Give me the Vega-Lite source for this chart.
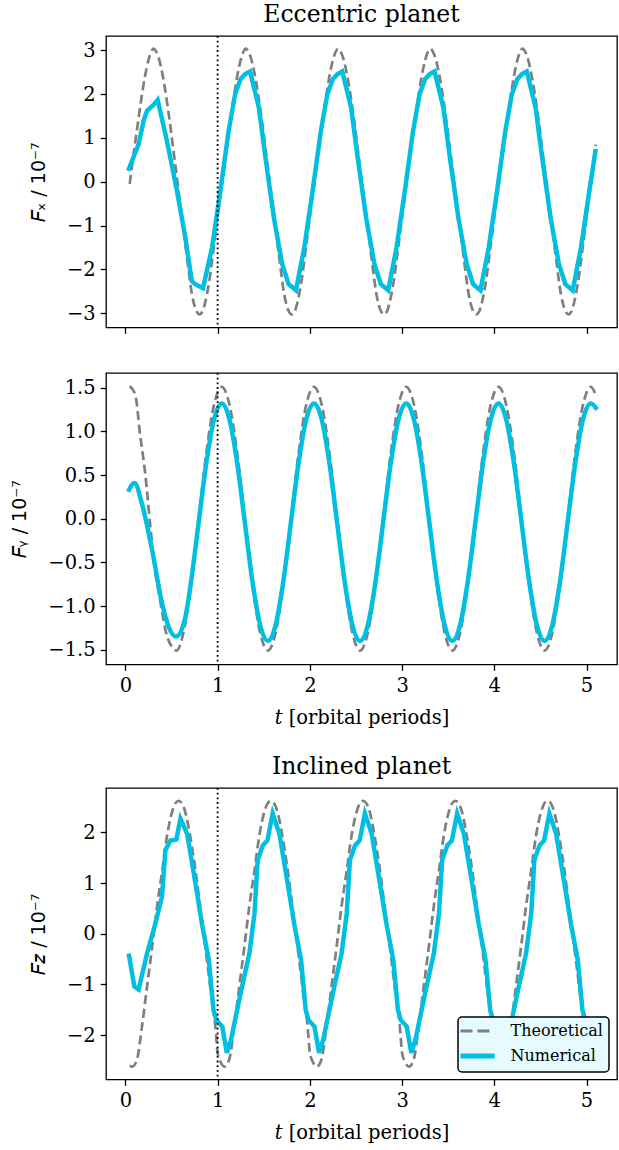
{
  "$schema": "https://vega.github.io/schema/vega-lite/v6.json",
  "padding": {"left": 10, "top": 2, "right": 0, "bottom": 0},
  "spacing": 26,
  "config": {
    "font": "DejaVu Serif",
    "view": {"stroke": "black", "strokeWidth": 1.3},
    "axis": {"domain": false, "grid": false, "ticks": true, "tickColor": "black", "tickWidth": 1.3, "tickSize": 5.8, "labelFont": "DejaVu Serif", "labelFontSize": 19.5, "labelColor": "black", "labelPadding": 5, "titleFont": "DejaVu Sans", "titleFontSize": 19, "titleFontWeight": "normal", "titleColor": "black", "titlePadding": 18},
    "axisX": {"titleFont": "DejaVu Serif", "titleFontSize": 19.5, "labelPadding": 6, "titlePadding": 14},
    "title": {"font": "DejaVu Serif", "fontSize": 23.5, "fontWeight": "normal", "color": "black", "offset": 8.5}
  },
  "datasets": {
    "p1T": [
      {"t":0.047,"v":-0.05},{"t":0.09,"v":0.65},{"t":0.13,"v":1.25},{"t":0.17,"v":1.85},{"t":0.21,"v":2.38},{"t":0.25,"v":2.78},{"t":0.28,"v":2.97},{"t":0.305,"v":3.04},{"t":0.335,"v":2.97},{"t":0.365,"v":2.80},{"t":0.415,"v":2.31},{"t":0.47,"v":1.55},{"t":0.54,"v":0.40},{"t":0.614,"v":-0.82},{"t":0.668,"v":-1.73},{"t":0.722,"v":-2.57},{"t":0.765,"v":-2.93},{"t":0.805,"v":-3.03},{"t":0.835,"v":-2.97},{"t":0.865,"v":-2.76},{"t":0.904,"v":-2.34},{"t":0.958,"v":-1.50},
      {"t":1.0,"v":-0.80},{"t":1.047,"v":-0.05},{"t":1.09,"v":0.65},{"t":1.13,"v":1.25},{"t":1.17,"v":1.85},{"t":1.21,"v":2.38},{"t":1.25,"v":2.78},{"t":1.28,"v":2.97},{"t":1.305,"v":3.04},{"t":1.335,"v":2.97},{"t":1.365,"v":2.80},{"t":1.415,"v":2.31},{"t":1.47,"v":1.55},{"t":1.54,"v":0.40},{"t":1.614,"v":-0.82},{"t":1.668,"v":-1.73},{"t":1.722,"v":-2.57},{"t":1.765,"v":-2.93},{"t":1.805,"v":-3.03},{"t":1.835,"v":-2.97},{"t":1.865,"v":-2.76},{"t":1.904,"v":-2.34},{"t":1.958,"v":-1.50},
      {"t":2.0,"v":-0.80},{"t":2.047,"v":-0.05},{"t":2.09,"v":0.65},{"t":2.13,"v":1.25},{"t":2.17,"v":1.85},{"t":2.21,"v":2.38},{"t":2.25,"v":2.78},{"t":2.28,"v":2.97},{"t":2.305,"v":3.04},{"t":2.335,"v":2.97},{"t":2.365,"v":2.80},{"t":2.415,"v":2.31},{"t":2.47,"v":1.55},{"t":2.54,"v":0.40},{"t":2.614,"v":-0.82},{"t":2.668,"v":-1.73},{"t":2.722,"v":-2.57},{"t":2.765,"v":-2.93},{"t":2.805,"v":-3.03},{"t":2.835,"v":-2.97},{"t":2.865,"v":-2.76},{"t":2.904,"v":-2.34},{"t":2.958,"v":-1.50},
      {"t":3.0,"v":-0.80},{"t":3.047,"v":-0.05},{"t":3.09,"v":0.65},{"t":3.13,"v":1.25},{"t":3.17,"v":1.85},{"t":3.21,"v":2.38},{"t":3.25,"v":2.78},{"t":3.28,"v":2.97},{"t":3.305,"v":3.04},{"t":3.335,"v":2.97},{"t":3.365,"v":2.80},{"t":3.415,"v":2.31},{"t":3.47,"v":1.55},{"t":3.54,"v":0.40},{"t":3.614,"v":-0.82},{"t":3.668,"v":-1.73},{"t":3.722,"v":-2.57},{"t":3.765,"v":-2.93},{"t":3.805,"v":-3.03},{"t":3.835,"v":-2.97},{"t":3.865,"v":-2.76},{"t":3.904,"v":-2.34},{"t":3.958,"v":-1.50},
      {"t":4.0,"v":-0.80},{"t":4.047,"v":-0.05},{"t":4.09,"v":0.65},{"t":4.13,"v":1.25},{"t":4.17,"v":1.85},{"t":4.21,"v":2.38},{"t":4.25,"v":2.78},{"t":4.28,"v":2.97},{"t":4.305,"v":3.04},{"t":4.335,"v":2.97},{"t":4.365,"v":2.80},{"t":4.415,"v":2.31},{"t":4.47,"v":1.55},{"t":4.54,"v":0.40},{"t":4.614,"v":-0.82},{"t":4.668,"v":-1.73},{"t":4.722,"v":-2.57},{"t":4.765,"v":-2.93},{"t":4.805,"v":-3.03},{"t":4.835,"v":-2.97},{"t":4.865,"v":-2.76},{"t":4.904,"v":-2.34},{"t":4.958,"v":-1.50},
      {"t":5.0,"v":-0.80},{"t":5.047,"v":-0.05},{"t":5.09,"v":0.65},{"t":5.10,"v":0.85}
    ],
    "p1N": [
      {"t":0.03,"v":0.25},{"t":0.144,"v":0.86},{"t":0.198,"v":1.40},{"t":0.235,"v":1.62},{"t":0.307,"v":1.76},{"t":0.35,"v":1.87},{"t":0.45,"v":0.94},{"t":0.56,"v":-0.21},{"t":0.65,"v":-1.27},{"t":0.72,"v":-2.27},{"t":0.757,"v":-2.34},{"t":0.842,"v":-2.43},{"t":0.94,"v":-1.50},
      {"t":1.03,"v":-0.21},{"t":1.12,"v":1.17},{"t":1.19,"v":2.00},{"t":1.25,"v":2.35},{"t":1.30,"v":2.46},{"t":1.352,"v":2.52},{"t":1.447,"v":1.70},{"t":1.518,"v":0.56},{"t":1.61,"v":-0.82},{"t":1.70,"v":-1.88},{"t":1.77,"v":-2.34},{"t":1.85,"v":-2.48},{"t":1.94,"v":-1.50},
      {"t":2.03,"v":-0.21},{"t":2.12,"v":1.17},{"t":2.19,"v":2.00},{"t":2.25,"v":2.35},{"t":2.30,"v":2.46},{"t":2.352,"v":2.52},{"t":2.447,"v":1.70},{"t":2.518,"v":0.56},{"t":2.61,"v":-0.82},{"t":2.70,"v":-1.88},{"t":2.77,"v":-2.34},{"t":2.85,"v":-2.48},{"t":2.94,"v":-1.50},
      {"t":3.03,"v":-0.21},{"t":3.12,"v":1.17},{"t":3.19,"v":2.00},{"t":3.25,"v":2.35},{"t":3.30,"v":2.46},{"t":3.352,"v":2.52},{"t":3.447,"v":1.70},{"t":3.518,"v":0.56},{"t":3.61,"v":-0.82},{"t":3.70,"v":-1.88},{"t":3.77,"v":-2.34},{"t":3.85,"v":-2.48},{"t":3.94,"v":-1.50},
      {"t":4.03,"v":-0.21},{"t":4.12,"v":1.17},{"t":4.19,"v":2.00},{"t":4.25,"v":2.35},{"t":4.30,"v":2.46},{"t":4.352,"v":2.52},{"t":4.447,"v":1.70},{"t":4.518,"v":0.56},{"t":4.61,"v":-0.82},{"t":4.70,"v":-1.88},{"t":4.77,"v":-2.34},{"t":4.85,"v":-2.48},{"t":4.94,"v":-1.50},
      {"t":5.03,"v":-0.21},{"t":5.10,"v":0.75}
    ],
    "p2T": [
      {"t":0.047,"v":1.52},{"t":0.108,"v":1.42},{"t":0.16,"v":0.96},{"t":0.217,"v":0.50},{"t":0.27,"v":-0.08},{"t":0.32,"v":-0.57},{"t":0.38,"v":-0.96},{"t":0.45,"v":-1.34},{"t":0.506,"v":-1.47},{"t":0.555,"v":-1.51},
      {"t":0.628,"v":-1.31},{"t":0.712,"v":-0.755},{"t":0.795,"v":0},{"t":0.878,"v":0.755},{"t":0.962,"v":1.31},
      {"t":1.045,"v":1.51},{"t":1.128,"v":1.31},{"t":1.212,"v":0.755},{"t":1.295,"v":0},{"t":1.378,"v":-0.755},{"t":1.462,"v":-1.31},{"t":1.545,"v":-1.51},{"t":1.628,"v":-1.31},{"t":1.712,"v":-0.755},{"t":1.795,"v":0},{"t":1.878,"v":0.755},{"t":1.962,"v":1.31},
      {"t":2.045,"v":1.51},{"t":2.128,"v":1.31},{"t":2.212,"v":0.755},{"t":2.295,"v":0},{"t":2.378,"v":-0.755},{"t":2.462,"v":-1.31},{"t":2.545,"v":-1.51},{"t":2.628,"v":-1.31},{"t":2.712,"v":-0.755},{"t":2.795,"v":0},{"t":2.878,"v":0.755},{"t":2.962,"v":1.31},
      {"t":3.045,"v":1.51},{"t":3.128,"v":1.31},{"t":3.212,"v":0.755},{"t":3.295,"v":0},{"t":3.378,"v":-0.755},{"t":3.462,"v":-1.31},{"t":3.545,"v":-1.51},{"t":3.628,"v":-1.31},{"t":3.712,"v":-0.755},{"t":3.795,"v":0},{"t":3.878,"v":0.755},{"t":3.962,"v":1.31},
      {"t":4.045,"v":1.51},{"t":4.128,"v":1.31},{"t":4.212,"v":0.755},{"t":4.295,"v":0},{"t":4.378,"v":-0.755},{"t":4.462,"v":-1.31},{"t":4.545,"v":-1.51},{"t":4.628,"v":-1.31},{"t":4.712,"v":-0.755},{"t":4.795,"v":0},{"t":4.878,"v":0.755},{"t":4.962,"v":1.31},
      {"t":5.045,"v":1.51},{"t":5.10,"v":1.42}
    ],
    "p2N": [
      {"t":0.03,"v":0.31},{"t":0.10,"v":0.41},{"t":0.18,"v":0.17},{"t":0.29,"v":-0.36},{"t":0.40,"v":-0.98},{"t":0.47,"v":-1.24},{"t":0.55,"v":-1.35},{"t":0.65,"v":-1.13},
      {"t":0.712,"v":-0.72},{"t":0.795,"v":-0.04},{"t":0.878,"v":0.64},{"t":0.962,"v":1.14},
      {"t":1.045,"v":1.32},{"t":1.128,"v":1.14},{"t":1.212,"v":0.64},{"t":1.295,"v":-0.04},{"t":1.378,"v":-0.72},{"t":1.462,"v":-1.22},{"t":1.545,"v":-1.40},{"t":1.628,"v":-1.22},{"t":1.712,"v":-0.72},{"t":1.795,"v":-0.04},{"t":1.878,"v":0.64},{"t":1.962,"v":1.14},
      {"t":2.045,"v":1.32},{"t":2.128,"v":1.14},{"t":2.212,"v":0.64},{"t":2.295,"v":-0.04},{"t":2.378,"v":-0.72},{"t":2.462,"v":-1.22},{"t":2.545,"v":-1.40},{"t":2.628,"v":-1.22},{"t":2.712,"v":-0.72},{"t":2.795,"v":-0.04},{"t":2.878,"v":0.64},{"t":2.962,"v":1.14},
      {"t":3.045,"v":1.32},{"t":3.128,"v":1.14},{"t":3.212,"v":0.64},{"t":3.295,"v":-0.04},{"t":3.378,"v":-0.72},{"t":3.462,"v":-1.22},{"t":3.545,"v":-1.40},{"t":3.628,"v":-1.22},{"t":3.712,"v":-0.72},{"t":3.795,"v":-0.04},{"t":3.878,"v":0.64},{"t":3.962,"v":1.14},
      {"t":4.045,"v":1.32},{"t":4.128,"v":1.14},{"t":4.212,"v":0.64},{"t":4.295,"v":-0.04},{"t":4.378,"v":-0.72},{"t":4.462,"v":-1.22},{"t":4.545,"v":-1.40},{"t":4.628,"v":-1.22},{"t":4.712,"v":-0.72},{"t":4.795,"v":-0.04},{"t":4.878,"v":0.64},{"t":4.962,"v":1.14},
      {"t":5.045,"v":1.32},{"t":5.115,"v":1.25}
    ],
    "p3": [
      {"s":"Theoretical","t":0.047,"v":-2.60},{"s":"Theoretical","t":0.075,"v":-2.62},{"s":"Theoretical","t":0.126,"v":-2.48},{"s":"Theoretical","t":0.18,"v":-1.83},{"s":"Theoretical","t":0.235,"v":-1.04},{"s":"Theoretical","t":0.29,"v":-0.26},{"s":"Theoretical","t":0.343,"v":0.53},{"s":"Theoretical","t":0.40,"v":1.25},{"s":"Theoretical","t":0.45,"v":1.91},{"s":"Theoretical","t":0.506,"v":2.40},{"s":"Theoretical","t":0.545,"v":2.58},{"s":"Theoretical","t":0.578,"v":2.62},{"s":"Theoretical","t":0.61,"v":2.58},{"s":"Theoretical","t":0.65,"v":2.40},{"s":"Theoretical","t":0.70,"v":1.95},{"s":"Theoretical","t":0.76,"v":1.25},{"s":"Theoretical","t":0.82,"v":0.40},{"s":"Theoretical","t":0.88,"v":-0.45},{"s":"Theoretical","t":0.93,"v":-1.20},{"s":"Theoretical","t":0.976,"v":-1.83},
      {"s":"Theoretical","t":1.0,"v":-2.35},{"s":"Theoretical","t":1.03,"v":-2.52},{"s":"Theoretical","t":1.075,"v":-2.62},{"s":"Theoretical","t":1.126,"v":-2.48},{"s":"Theoretical","t":1.18,"v":-1.83},{"s":"Theoretical","t":1.235,"v":-1.04},{"s":"Theoretical","t":1.29,"v":-0.26},{"s":"Theoretical","t":1.343,"v":0.53},{"s":"Theoretical","t":1.40,"v":1.25},{"s":"Theoretical","t":1.45,"v":1.91},{"s":"Theoretical","t":1.506,"v":2.40},{"s":"Theoretical","t":1.545,"v":2.58},{"s":"Theoretical","t":1.578,"v":2.62},{"s":"Theoretical","t":1.61,"v":2.58},{"s":"Theoretical","t":1.65,"v":2.40},{"s":"Theoretical","t":1.70,"v":1.95},{"s":"Theoretical","t":1.76,"v":1.25},{"s":"Theoretical","t":1.82,"v":0.40},{"s":"Theoretical","t":1.88,"v":-0.45},{"s":"Theoretical","t":1.93,"v":-1.20},{"s":"Theoretical","t":1.976,"v":-1.83},
      {"s":"Theoretical","t":2.0,"v":-2.35},{"s":"Theoretical","t":2.03,"v":-2.52},{"s":"Theoretical","t":2.075,"v":-2.62},{"s":"Theoretical","t":2.126,"v":-2.48},{"s":"Theoretical","t":2.18,"v":-1.83},{"s":"Theoretical","t":2.235,"v":-1.04},{"s":"Theoretical","t":2.29,"v":-0.26},{"s":"Theoretical","t":2.343,"v":0.53},{"s":"Theoretical","t":2.40,"v":1.25},{"s":"Theoretical","t":2.45,"v":1.91},{"s":"Theoretical","t":2.506,"v":2.40},{"s":"Theoretical","t":2.545,"v":2.58},{"s":"Theoretical","t":2.578,"v":2.62},{"s":"Theoretical","t":2.61,"v":2.58},{"s":"Theoretical","t":2.65,"v":2.40},{"s":"Theoretical","t":2.70,"v":1.95},{"s":"Theoretical","t":2.76,"v":1.25},{"s":"Theoretical","t":2.82,"v":0.40},{"s":"Theoretical","t":2.88,"v":-0.45},{"s":"Theoretical","t":2.93,"v":-1.20},{"s":"Theoretical","t":2.976,"v":-1.83},
      {"s":"Theoretical","t":3.0,"v":-2.35},{"s":"Theoretical","t":3.03,"v":-2.52},{"s":"Theoretical","t":3.075,"v":-2.62},{"s":"Theoretical","t":3.126,"v":-2.48},{"s":"Theoretical","t":3.18,"v":-1.83},{"s":"Theoretical","t":3.235,"v":-1.04},{"s":"Theoretical","t":3.29,"v":-0.26},{"s":"Theoretical","t":3.343,"v":0.53},{"s":"Theoretical","t":3.40,"v":1.25},{"s":"Theoretical","t":3.45,"v":1.91},{"s":"Theoretical","t":3.506,"v":2.40},{"s":"Theoretical","t":3.545,"v":2.58},{"s":"Theoretical","t":3.578,"v":2.62},{"s":"Theoretical","t":3.61,"v":2.58},{"s":"Theoretical","t":3.65,"v":2.40},{"s":"Theoretical","t":3.70,"v":1.95},{"s":"Theoretical","t":3.76,"v":1.25},{"s":"Theoretical","t":3.82,"v":0.40},{"s":"Theoretical","t":3.88,"v":-0.45},{"s":"Theoretical","t":3.93,"v":-1.20},{"s":"Theoretical","t":3.976,"v":-1.83},
      {"s":"Theoretical","t":4.0,"v":-2.35},{"s":"Theoretical","t":4.03,"v":-2.52},{"s":"Theoretical","t":4.075,"v":-2.62},{"s":"Theoretical","t":4.126,"v":-2.48},{"s":"Theoretical","t":4.18,"v":-1.83},{"s":"Theoretical","t":4.235,"v":-1.04},{"s":"Theoretical","t":4.29,"v":-0.26},{"s":"Theoretical","t":4.343,"v":0.53},{"s":"Theoretical","t":4.40,"v":1.25},{"s":"Theoretical","t":4.45,"v":1.91},{"s":"Theoretical","t":4.506,"v":2.40},{"s":"Theoretical","t":4.545,"v":2.58},{"s":"Theoretical","t":4.578,"v":2.62},{"s":"Theoretical","t":4.61,"v":2.58},{"s":"Theoretical","t":4.65,"v":2.40},{"s":"Theoretical","t":4.70,"v":1.95},{"s":"Theoretical","t":4.76,"v":1.25},{"s":"Theoretical","t":4.82,"v":0.40},{"s":"Theoretical","t":4.88,"v":-0.45},{"s":"Theoretical","t":4.93,"v":-1.20},{"s":"Theoretical","t":4.976,"v":-1.83},
      {"s":"Theoretical","t":5.0,"v":-2.35},{"s":"Theoretical","t":5.03,"v":-2.52},{"s":"Theoretical","t":5.075,"v":-2.62},{"s":"Theoretical","t":5.10,"v":-2.58},
      {"s":"Numerical","t":0.036,"v":-0.39},{"s":"Numerical","t":0.097,"v":-1.04},{"s":"Numerical","t":0.144,"v":-1.10},{"s":"Numerical","t":0.235,"v":-0.39},{"s":"Numerical","t":0.325,"v":0.20},{"s":"Numerical","t":0.397,"v":0.73},{"s":"Numerical","t":0.434,"v":1.65},{"s":"Numerical","t":0.488,"v":1.84},{"s":"Numerical","t":0.553,"v":1.86},{"s":"Numerical","t":0.597,"v":2.27},{"s":"Numerical","t":0.67,"v":1.97},{"s":"Numerical","t":0.76,"v":0.99},{"s":"Numerical","t":0.83,"v":0.20},{"s":"Numerical","t":0.905,"v":-0.52},{"s":"Numerical","t":0.955,"v":-1.50},{"s":"Numerical","t":0.985,"v":-1.70},
      {"s":"Numerical","t":1.05,"v":-1.83},{"s":"Numerical","t":1.10,"v":-2.35},{"s":"Numerical","t":1.145,"v":-2.09},{"s":"Numerical","t":1.25,"v":-1.17},{"s":"Numerical","t":1.344,"v":-0.39},{"s":"Numerical","t":1.40,"v":0.40},{"s":"Numerical","t":1.434,"v":1.45},{"s":"Numerical","t":1.49,"v":1.74},{"s":"Numerical","t":1.54,"v":1.84},{"s":"Numerical","t":1.597,"v":2.37},{"s":"Numerical","t":1.67,"v":1.97},{"s":"Numerical","t":1.76,"v":0.99},{"s":"Numerical","t":1.83,"v":0.20},{"s":"Numerical","t":1.905,"v":-0.52},{"s":"Numerical","t":1.955,"v":-1.50},{"s":"Numerical","t":1.985,"v":-1.70},
      {"s":"Numerical","t":2.05,"v":-1.83},{"s":"Numerical","t":2.10,"v":-2.35},{"s":"Numerical","t":2.145,"v":-2.09},{"s":"Numerical","t":2.25,"v":-1.17},{"s":"Numerical","t":2.344,"v":-0.39},{"s":"Numerical","t":2.40,"v":0.40},{"s":"Numerical","t":2.434,"v":1.45},{"s":"Numerical","t":2.49,"v":1.74},{"s":"Numerical","t":2.54,"v":1.84},{"s":"Numerical","t":2.597,"v":2.37},{"s":"Numerical","t":2.67,"v":1.97},{"s":"Numerical","t":2.76,"v":0.99},{"s":"Numerical","t":2.83,"v":0.20},{"s":"Numerical","t":2.905,"v":-0.52},{"s":"Numerical","t":2.955,"v":-1.50},{"s":"Numerical","t":2.985,"v":-1.70},
      {"s":"Numerical","t":3.05,"v":-1.83},{"s":"Numerical","t":3.10,"v":-2.35},{"s":"Numerical","t":3.145,"v":-2.09},{"s":"Numerical","t":3.25,"v":-1.17},{"s":"Numerical","t":3.344,"v":-0.39},{"s":"Numerical","t":3.40,"v":0.40},{"s":"Numerical","t":3.434,"v":1.45},{"s":"Numerical","t":3.49,"v":1.74},{"s":"Numerical","t":3.54,"v":1.84},{"s":"Numerical","t":3.597,"v":2.37},{"s":"Numerical","t":3.67,"v":1.97},{"s":"Numerical","t":3.76,"v":0.99},{"s":"Numerical","t":3.83,"v":0.20},{"s":"Numerical","t":3.905,"v":-0.52},{"s":"Numerical","t":3.955,"v":-1.50},{"s":"Numerical","t":3.985,"v":-1.70},
      {"s":"Numerical","t":4.05,"v":-1.83},{"s":"Numerical","t":4.10,"v":-2.35},{"s":"Numerical","t":4.145,"v":-2.09},{"s":"Numerical","t":4.25,"v":-1.17},{"s":"Numerical","t":4.344,"v":-0.39},{"s":"Numerical","t":4.40,"v":0.40},{"s":"Numerical","t":4.434,"v":1.45},{"s":"Numerical","t":4.49,"v":1.74},{"s":"Numerical","t":4.54,"v":1.84},{"s":"Numerical","t":4.597,"v":2.37},{"s":"Numerical","t":4.67,"v":1.97},{"s":"Numerical","t":4.76,"v":0.99},{"s":"Numerical","t":4.83,"v":0.20},{"s":"Numerical","t":4.905,"v":-0.52},{"s":"Numerical","t":4.955,"v":-1.50},{"s":"Numerical","t":4.985,"v":-1.70},
      {"s":"Numerical","t":5.05,"v":-1.83},{"s":"Numerical","t":5.10,"v":-2.35}
    ]
  },
  "resolve": {"scale": {"color": "independent"}, "legend": {"color": "independent"}},
  "vconcat": [
    {
      "width": 511, "height": 291.5,
      "title": {"text": "Eccentric planet"},
      "layer": [
        {
          "data": {"name": "p1T"},
          "mark": {"type": "line", "color": "#7f7f7f", "strokeWidth": 2.7, "strokeDash": [9, 4.5], "interpolate": "monotone", "clip": true},
          "encoding": {
            "x": {"field": "t", "type": "quantitative", "scale": {"domain": [-0.21, 5.33], "nice": false, "zero": false}, "axis": {"values": [0, 1, 2, 3, 4, 5], "format": "d", "labelOpacity": 0, "labelFontSize": 11, "labelPadding": 0, "title": null}},
            "y": {"field": "v", "type": "quantitative", "scale": {"domain": [-3.33, 3.33], "nice": false, "zero": false}, "axis": {"values": [-3, -2, -1, 0, 1, 2, 3], "format": "d", "title": "𝐹ₓ / 10⁻⁷"}}
          }
        },
        {
          "data": {"name": "p1N"},
          "mark": {"type": "line", "color": "#00bfe0", "strokeWidth": 4.5, "interpolate": "linear", "clip": true},
          "encoding": {
            "x": {"field": "t", "type": "quantitative"},
            "y": {"field": "v", "type": "quantitative"}
          }
        },
        {
          "data": {"values": [{}]},
          "mark": {"type": "rule", "color": "black", "strokeWidth": 1.8, "strokeDash": [1.8, 2.9]},
          "encoding": {"x": {"datum": 1}}
        }
      ]
    },
    {
      "width": 511, "height": 291.5,
      "layer": [
        {
          "data": {"name": "p2T"},
          "mark": {"type": "line", "color": "#7f7f7f", "strokeWidth": 2.7, "strokeDash": [9, 4.5], "interpolate": "monotone", "clip": true},
          "encoding": {
            "x": {"field": "t", "type": "quantitative", "scale": {"domain": [-0.21, 5.33], "nice": false, "zero": false}, "axis": {"values": [0, 1, 2, 3, 4, 5], "format": "d", "title": "𝑡 [orbital periods]"}},
            "y": {"field": "v", "type": "quantitative", "scale": {"domain": [-1.67, 1.67], "nice": false, "zero": false}, "axis": {"values": [-1.5, -1, -0.5, 0, 0.5, 1, 1.5], "format": ".1f", "title": "𝐹ᵧ / 10⁻⁷"}}
          }
        },
        {
          "data": {"name": "p2N"},
          "mark": {"type": "line", "color": "#00bfe0", "strokeWidth": 4.5, "interpolate": "monotone", "clip": true},
          "encoding": {
            "x": {"field": "t", "type": "quantitative"},
            "y": {"field": "v", "type": "quantitative"}
          }
        },
        {
          "data": {"values": [{}]},
          "mark": {"type": "rule", "color": "black", "strokeWidth": 1.8, "strokeDash": [1.8, 2.9]},
          "encoding": {"x": {"datum": 1}}
        }
      ]
    },
    {
      "width": 511, "height": 291.5,
      "title": {"text": "Inclined planet"},
      "data": {"name": "p3"},
      "layer": [
        {
          "transform": [{"filter": "datum.s === 'Theoretical'"}],
          "mark": {"type": "line", "strokeWidth": 2.7, "strokeDash": [9, 4.5], "interpolate": "monotone", "clip": true},
          "encoding": {
            "x": {"field": "t", "type": "quantitative", "scale": {"domain": [-0.21, 5.33], "nice": false, "zero": false}, "axis": {"values": [0, 1, 2, 3, 4, 5], "format": "d", "title": "𝑡 [orbital periods]"}},
            "y": {"field": "v", "type": "quantitative", "scale": {"domain": [-2.875, 2.875], "nice": false, "zero": false}, "axis": {"values": [-2, -1, 0, 1, 2], "format": "d", "title": "𝐹𝑧 / 10⁻⁷"}},
            "color": {"field": "s", "type": "nominal", "scale": {"domain": ["Theoretical", "Numerical"], "range": ["#7f7f7f", "#00bfe0"]},
              "legend": {"orient": "bottom-right", "offset": 8, "title": null, "fillColor": "#e6fbff", "strokeColor": "black", "cornerRadius": 4, "padding": 6, "labelFont": "DejaVu Serif", "labelFontSize": 16, "labelColor": "black", "labelOffset": 25, "symbolOffset": 5.5, "symbolType": "stroke", "symbolSize": 1160, "symbolStrokeWidth": 3, "rowPadding": 7,
                "encode": {
                  "legend": {"update": {"strokeWidth": {"value": 1.5}}},
                  "symbols": {"update": {"strokeWidth": {"signal": "datum.value === 'Numerical' ? 5 : 3"}, "strokeDash": {"signal": "datum.value === 'Theoretical' ? [12, 5] : [1, 0]"}}}
                }
              }
            }
          }
        },
        {
          "transform": [{"filter": "datum.s === 'Numerical'"}],
          "mark": {"type": "line", "strokeWidth": 4.5, "interpolate": "linear", "clip": true},
          "encoding": {
            "x": {"field": "t", "type": "quantitative"},
            "y": {"field": "v", "type": "quantitative"},
            "color": {"field": "s", "type": "nominal"}
          }
        },
        {
          "data": {"values": [{}]},
          "mark": {"type": "rule", "color": "black", "strokeWidth": 1.8, "strokeDash": [1.8, 2.9]},
          "encoding": {"x": {"datum": 1}}
        }
      ]
    }
  ]
}
